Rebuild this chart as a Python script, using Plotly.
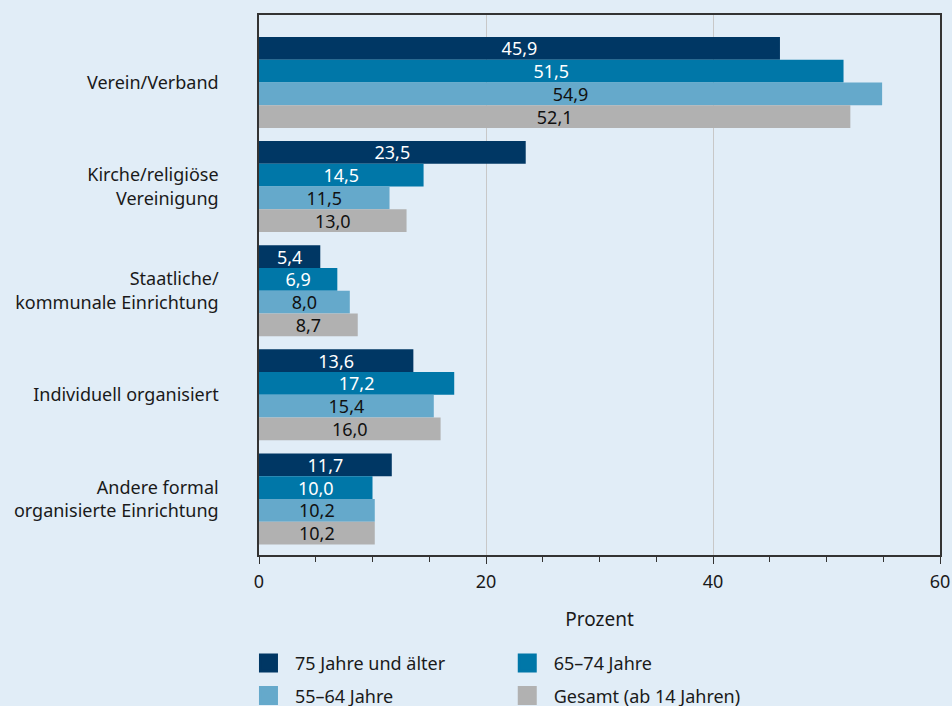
import plotly.graph_objects as go

categories = ["Verein/Verband", "Kirche/religiöse<br>Vereinigung", "Staatliche/<br>kommunale Einrichtung",
              "Individuell organisiert", "Andere formal<br>organisierte Einrichtung"]
series_names = ["75 Jahre und älter", "65–74 Jahre", "55–64 Jahre", "Gesamt (ab 14 Jahren)"]
v_75plus = [45.9, 23.5, 5.4, 13.6, 11.7]
v_65_74 = [51.5, 14.5, 6.9, 17.2, 10.0]
v_55_64 = [54.9, 11.5, 8.0, 15.4, 10.2]
v_gesamt = [52.1, 13.0, 8.7, 16.0, 10.2]

values = [v_75plus, v_65_74, v_55_64, v_gesamt]
colors = ["#003764", "#0077a8", "#65a9cb", "#b1b1b1"]
text_colors = ["white", "white", "#111111", "#111111"]
legends = ["legend", "legend2", "legend", "legend2"]

bg = "#e1edf7"
font = "Noto Sans"
fs = 18

fig = go.Figure()
for i in range(4):
    fig.add_trace(go.Bar(
        y=categories, x=values[i], name=series_names[i], orientation="h",
        marker=dict(color=colors[i], line=dict(width=0)),
        texttemplate="%{x:.1f}", textposition="inside", insidetextanchor="middle",
        constraintext="none", textfont=dict(color=text_colors[i], size=fs, family=font),
        showlegend=False,
    ))
# legend entries (bigger square swatches than the bar default)
for i in range(4):
    fig.add_trace(go.Scatter(
        x=[None], y=[None], mode="markers", name=series_names[i],
        marker=dict(symbol="square", size=16, color=colors[i], line=dict(color=colors[i], width=3)),
        legend=legends[i], legendgroup=series_names[i],
    ))

fig.update_layout(
    width=952, height=706,
    margin=dict(l=259, r=12, t=15, b=151, autoexpand=False),
    paper_bgcolor=bg, plot_bgcolor=bg,
    barmode="group", bargap=0.126, bargroupgap=0,
    separators=",.",
    font=dict(family=font, size=fs, color="#1a1a1a"),
    legend=dict(x=-0.025, y=-0.1665, xanchor="left", yanchor="top", orientation="v",
                bgcolor="rgba(0,0,0,0)", font=dict(size=fs), tracegroupgap=6, itemwidth=43),
    legend2=dict(x=0.355, y=-0.1665, xanchor="left", yanchor="top", orientation="v",
                 bgcolor="rgba(0,0,0,0)", font=dict(size=fs), tracegroupgap=6, itemwidth=43),
)
fig.update_xaxes(range=[0, 60], dtick=20, showgrid=True, gridcolor="#c8c8c8", gridwidth=1,
                 zeroline=False, showline=True, mirror=True, linecolor="#333333", linewidth=1.5,
                 ticks="outside", ticklen=7, tickcolor="#333333", ticklabelstandoff=3,
                 minor=dict(dtick=5, ticks="outside", ticklen=5, tickcolor="#333333", showgrid=False),
                 title=dict(text="Prozent", standoff=20, font=dict(size=19)), tickfont=dict(size=fs))
fig.update_yaxes(range=[4.538, -0.648], showgrid=False, zeroline=False, showline=True, mirror=True,
                 linecolor="#333333", linewidth=1.5, ticks="", ticklabelstandoff=35,
                 tickfont=dict(size=fs))

fig.write_html("out.html", config={"displayModeBar": False},
               post_script="document.body.style.margin='0';")
